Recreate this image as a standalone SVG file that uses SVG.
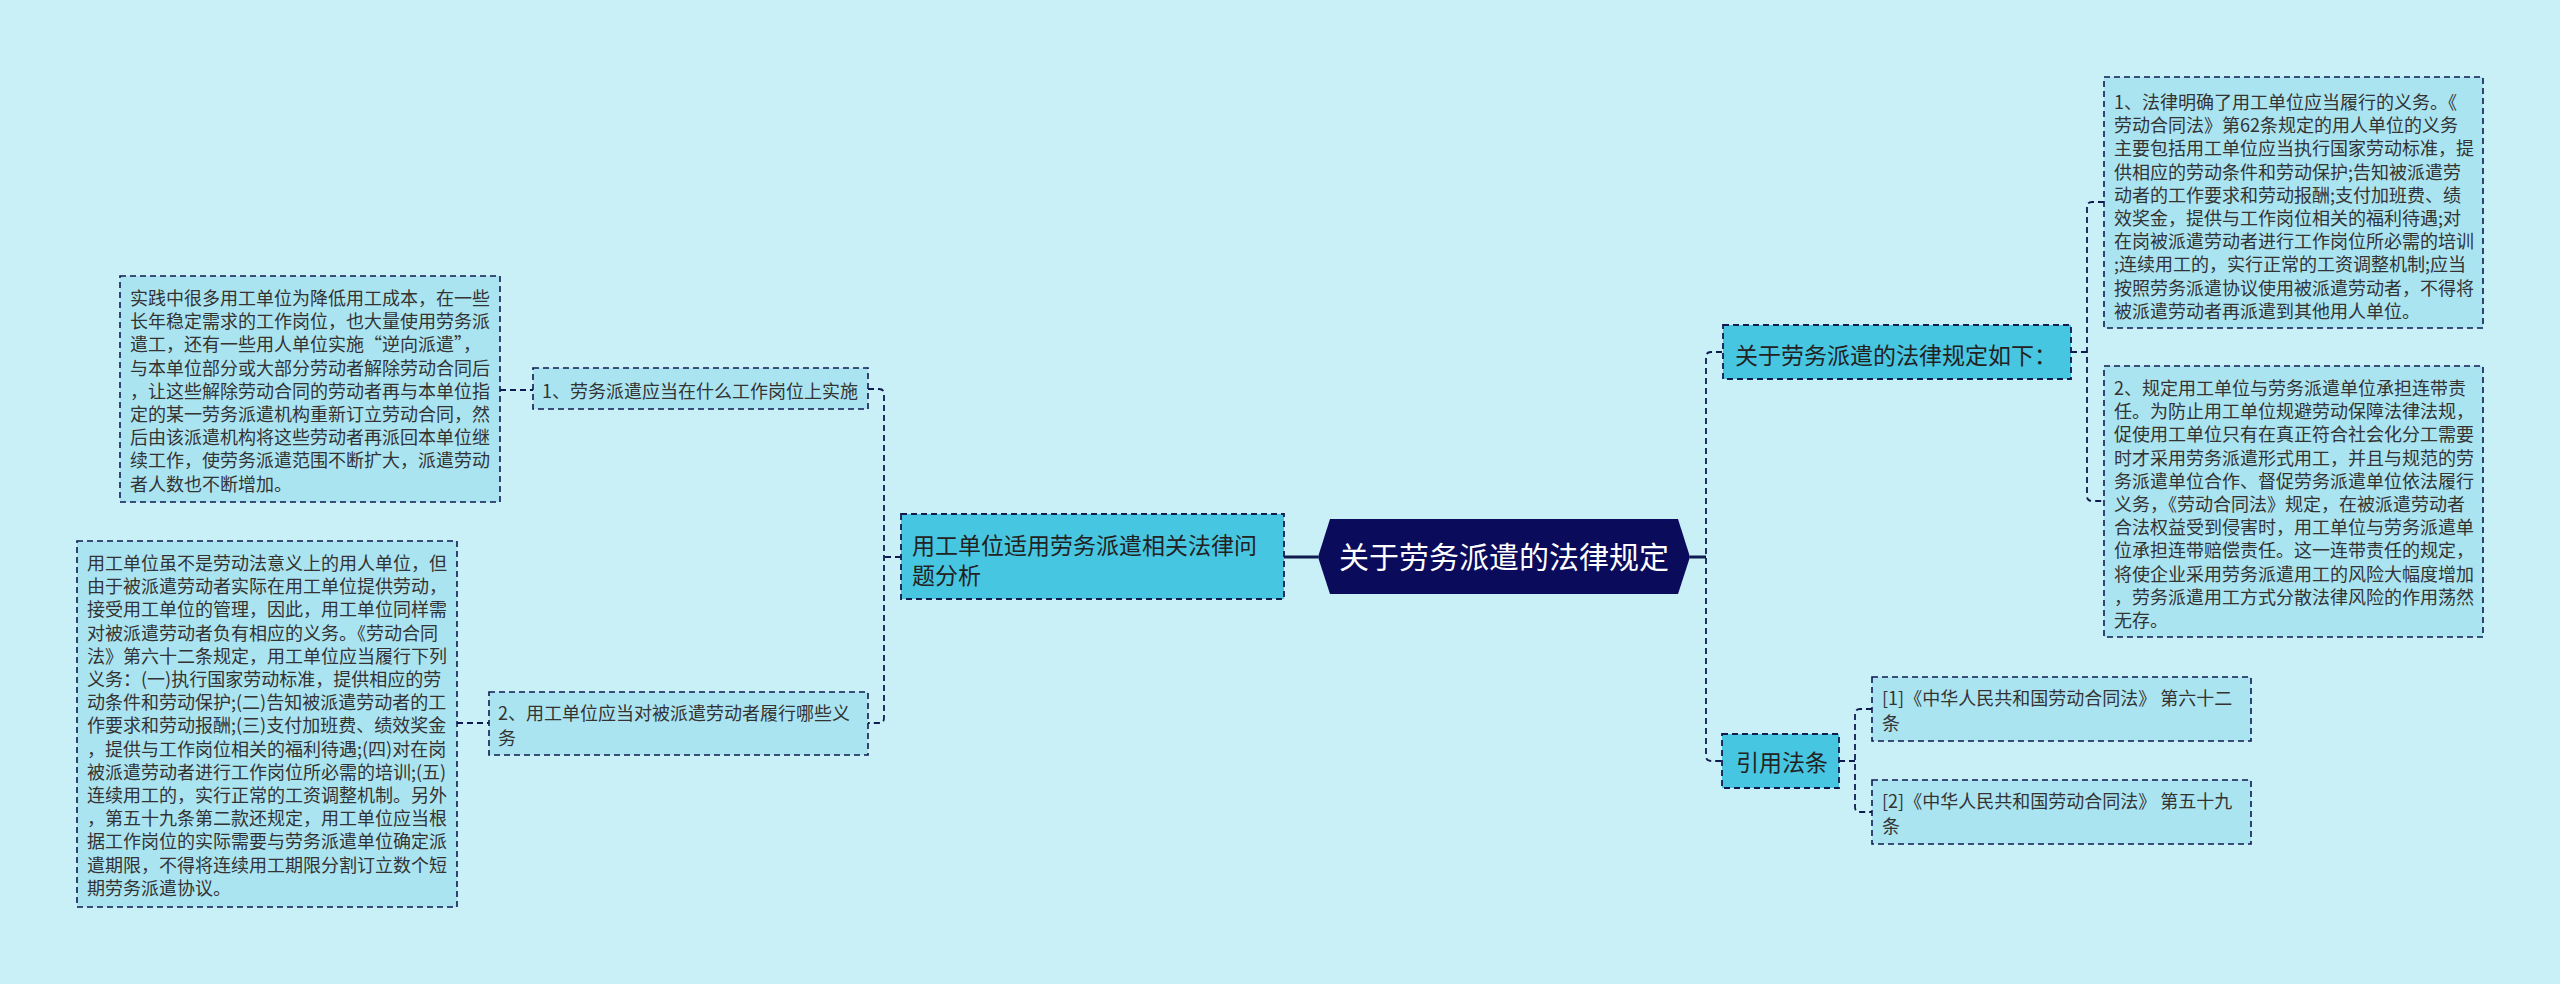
<svg xmlns="http://www.w3.org/2000/svg" width="2560" height="984" viewBox="0 0 2560 984">
<style>
text{font-family:"Noto Sans CJK SC","Noto Sans",sans-serif;}
.leaf{fill:#ABE4F1;stroke:#0F1B4F;stroke-width:1.6;stroke-dasharray:6 4;}
.sub{fill:#47C6E1;stroke:#0F1B4F;stroke-width:1.8;stroke-dasharray:6 4;}
.lt{font-size:18px;fill:#333;}
.st{font-size:23px;fill:#222;}
.conn{fill:none;stroke:#0F1B4F;stroke-width:1.8;stroke-dasharray:6 4;}
.solid{fill:none;stroke:#0F1B4F;stroke-width:3;}
</style>
<rect x="0" y="0" width="2560" height="984" fill="#C9EFF7"/>
<g id="connectors">
<path class="solid" d="M1284,557 H1318"/>
<path class="solid" d="M1690,557 H1706"/>
<path class="conn" d="M901,557 H884"/>
<path class="conn" d="M868,389 H879 Q884,389 884,394 V718 Q884,723 879,723 H868"/>
<path class="conn" d="M500,390 H533"/>
<path class="conn" d="M457,723 H489"/>
<path class="conn" d="M1722,352 H1711 Q1706,352 1706,357 V756 Q1706,761 1711,761 H1722"/>
<path class="conn" d="M2071,352 H2087"/>
<path class="conn" d="M2104,202 H2092 Q2087,202 2087,207 V496 Q2087,501 2092,501 H2104"/>
<path class="conn" d="M1839,761 H1855"/>
<path class="conn" d="M1872,709 H1860 Q1855,709 1855,714 V807 Q1855,812 1860,812 H1872"/>
</g>
<g id="center">
<polygon points="1318,557 1330,519 1678,519 1690,557 1678,594 1330,594" fill="#0B0B5C"/>
<text x="1504" y="568" font-size="30" fill="#FFFFFF" text-anchor="middle">关于劳务派遣的法律规定</text>
</g>
<g id="n-left">
<rect class="sub" x="901" y="514" width="383" height="85"/>
<text class="st" x="912" y="554">用工单位适用劳务派遣相关法律问</text>
<text class="st" x="912" y="584">题分析</text>
</g>
<g id="n-q1">
<rect class="leaf" x="533" y="368" width="335" height="41"/>
<text class="lt" x="542" y="398">1、劳务派遣应当在什么工作岗位上实施</text>
</g>
<g id="n-q1-detail">
<rect class="leaf" x="120" y="276" width="380" height="226"/>
<text class="lt" x="130" y="305">实践中很多用工单位为降低用工成本，在一些</text>
<text class="lt" x="130" y="328.2">长年稳定需求的工作岗位，也大量使用劳务派</text>
<text class="lt" x="130" y="351.4">遣工，还有一些用人单位实施“逆向派遣”，</text>
<text class="lt" x="130" y="374.6">与本单位部分或大部分劳动者解除劳动合同后</text>
<text class="lt" x="130" y="397.8">，让这些解除劳动合同的劳动者再与本单位指</text>
<text class="lt" x="130" y="421">定的某一劳务派遣机构重新订立劳动合同，然</text>
<text class="lt" x="130" y="444.2">后由该派遣机构将这些劳动者再派回本单位继</text>
<text class="lt" x="130" y="467.4">续工作，使劳务派遣范围不断扩大，派遣劳动</text>
<text class="lt" x="130" y="490.6">者人数也不断增加。</text>
</g>
<g id="n-q2">
<rect class="leaf" x="489" y="692" width="379" height="63"/>
<text class="lt" x="498" y="720">2、用工单位应当对被派遣劳动者履行哪些义</text>
<text class="lt" x="498" y="745">务</text>
</g>
<g id="n-q2-detail">
<rect class="leaf" x="77" y="541" width="380" height="366"/>
<text class="lt" x="87" y="570">用工单位虽不是劳动法意义上的用人单位，但</text>
<text class="lt" x="87" y="593.2">由于被派遣劳动者实际在用工单位提供劳动，</text>
<text class="lt" x="87" y="616.4">接受用工单位的管理，因此，用工单位同样需</text>
<text class="lt" x="87" y="639.6">对被派遣劳动者负有相应的义务。《劳动合同</text>
<text class="lt" x="87" y="662.8">法》第六十二条规定，用工单位应当履行下列</text>
<text class="lt" x="87" y="686">义务：(一)执行国家劳动标准，提供相应的劳</text>
<text class="lt" x="87" y="709.2">动条件和劳动保护;(二)告知被派遣劳动者的工</text>
<text class="lt" x="87" y="732.4">作要求和劳动报酬;(三)支付加班费、绩效奖金</text>
<text class="lt" x="87" y="755.6">，提供与工作岗位相关的福利待遇;(四)对在岗</text>
<text class="lt" x="87" y="778.8">被派遣劳动者进行工作岗位所必需的培训;(五)</text>
<text class="lt" x="87" y="802">连续用工的，实行正常的工资调整机制。另外</text>
<text class="lt" x="87" y="825.2">，第五十九条第二款还规定，用工单位应当根</text>
<text class="lt" x="87" y="848.4">据工作岗位的实际需要与劳务派遣单位确定派</text>
<text class="lt" x="87" y="871.6">遣期限，不得将连续用工期限分割订立数个短</text>
<text class="lt" x="87" y="894.8">期劳务派遣协议。</text>
</g>
<g id="n-law">
<rect class="sub" x="1723" y="325" width="348" height="54"/>
<text class="st" x="1735" y="364">关于劳务派遣的法律规定如下：</text>
</g>
<g id="n-law-1">
<rect class="leaf" x="2104" y="77" width="379" height="251"/>
<text class="lt" x="2114" y="109">1、法律明确了用工单位应当履行的义务。《</text>
<text class="lt" x="2114" y="132.2">劳动合同法》第62条规定的用人单位的义务</text>
<text class="lt" x="2114" y="155.4">主要包括用工单位应当执行国家劳动标准，提</text>
<text class="lt" x="2114" y="178.6">供相应的劳动条件和劳动保护;告知被派遣劳</text>
<text class="lt" x="2114" y="201.8">动者的工作要求和劳动报酬;支付加班费、绩</text>
<text class="lt" x="2114" y="225">效奖金，提供与工作岗位相关的福利待遇;对</text>
<text class="lt" x="2114" y="248.2">在岗被派遣劳动者进行工作岗位所必需的培训</text>
<text class="lt" x="2114" y="271.4">;连续用工的，实行正常的工资调整机制;应当</text>
<text class="lt" x="2114" y="294.6">按照劳务派遣协议使用被派遣劳动者，不得将</text>
<text class="lt" x="2114" y="317.8">被派遣劳动者再派遣到其他用人单位。</text>
</g>
<g id="n-law-2">
<rect class="leaf" x="2104" y="366" width="379" height="271"/>
<text class="lt" x="2114" y="395">2、规定用工单位与劳务派遣单位承担连带责</text>
<text class="lt" x="2114" y="418.2">任。为防止用工单位规避劳动保障法律法规，</text>
<text class="lt" x="2114" y="441.4">促使用工单位只有在真正符合社会化分工需要</text>
<text class="lt" x="2114" y="464.6">时才采用劳务派遣形式用工，并且与规范的劳</text>
<text class="lt" x="2114" y="487.8">务派遣单位合作、督促劳务派遣单位依法履行</text>
<text class="lt" x="2114" y="511">义务，《劳动合同法》规定，在被派遣劳动者</text>
<text class="lt" x="2114" y="534.2">合法权益受到侵害时，用工单位与劳务派遣单</text>
<text class="lt" x="2114" y="557.4">位承担连带赔偿责任。这一连带责任的规定，</text>
<text class="lt" x="2114" y="580.6">将使企业采用劳务派遣用工的风险大幅度增加</text>
<text class="lt" x="2114" y="603.8">，劳务派遣用工方式分散法律风险的作用荡然</text>
<text class="lt" x="2114" y="627">无存。</text>
</g>
<g id="n-cite">
<rect class="sub" x="1722" y="734" width="117" height="54"/>
<text class="st" x="1736" y="771">引用法条</text>
</g>
<g id="n-cite-1">
<rect class="leaf" x="1872" y="677" width="379" height="64"/>
<text class="lt" x="1882" y="705">[1]《中华人民共和国劳动合同法》 第六十二</text>
<text class="lt" x="1882" y="730">条</text>
</g>
<g id="n-cite-2">
<rect class="leaf" x="1872" y="780" width="379" height="64"/>
<text class="lt" x="1882" y="808">[2]《中华人民共和国劳动合同法》 第五十九</text>
<text class="lt" x="1882" y="833">条</text>
</g>
</svg>
